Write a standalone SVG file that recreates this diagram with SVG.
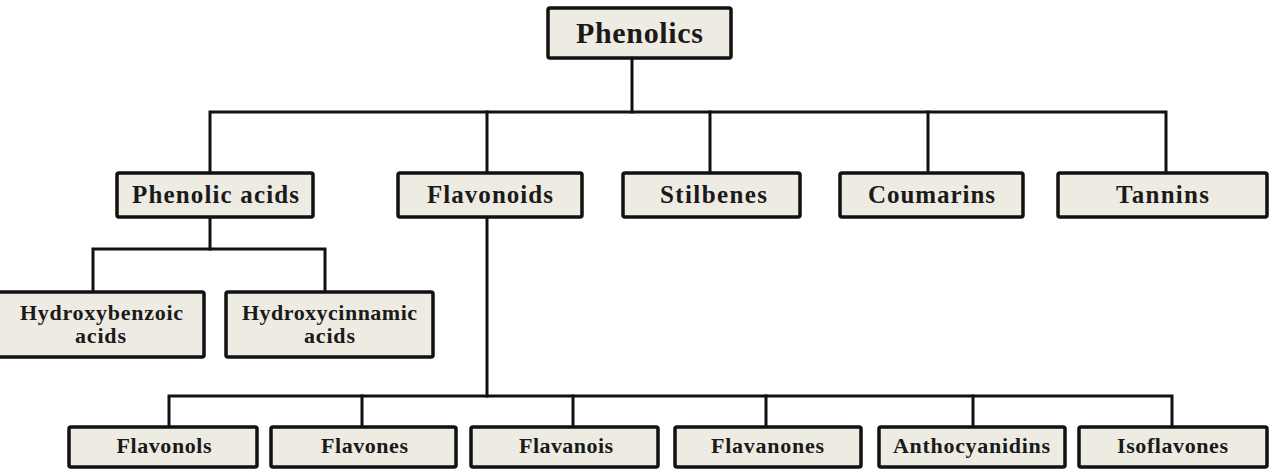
<svg xmlns="http://www.w3.org/2000/svg" width="1279" height="472" viewBox="0 0 1279 472">
  <style>
    .box { fill: #edebe2; stroke: #111; stroke-width: 3.5; }
    .wire { fill: none; stroke: #111; stroke-width: 3; stroke-linejoin: miter; stroke-linecap: square; }
    text { font-family: "Liberation Serif", "Times New Roman", serif; font-weight: bold; fill: #1a1a1a; text-anchor: middle; }
    .t1 { font-size: 30px; }
    .t2 { font-size: 25px; }
    .t3 { font-size: 22px; }
    .t4 { font-size: 22px; }
  </style>
  <rect width="1279" height="472" fill="#ffffff"/>

  <!-- tree connectors -->
  <g id="connectors" class="wire">
    <path d="M632 58 V112"/>
    <path d="M210 173 V112 H1166 V173"/>
    <path d="M487 112 V173 M710 112 V173 M928 112 V173"/>
    <path d="M210 217 V249"/>
    <path d="M93 292 V249 H325 V292"/>
    <path d="M487 217 V396"/>
    <path d="M169 427 V396 H1172 V427"/>
    <path d="M362 396 V427 M573 396 V427 M766 396 V427 M973 396 V427"/>
  </g>

  <!-- root -->
  <g id="phenolics">
    <rect class="box" x="548" y="8" width="183" height="50" rx="2"/>
    <text class="t1" x="639.5" y="43" textLength="127" lengthAdjust="spacing">Phenolics</text>
  </g>

  <!-- second level -->
  <g id="phenolic-acids">
    <rect class="box" x="117" y="173" width="196" height="44" rx="2"/>
    <text class="t2" x="215.5" y="203" textLength="167" lengthAdjust="spacing">Phenolic acids</text>
  </g>
  <g id="flavonoids">
    <rect class="box" x="398" y="173" width="184" height="44" rx="2"/>
    <text class="t2" x="490" y="203" textLength="126" lengthAdjust="spacing">Flavonoids</text>
  </g>
  <g id="stilbenes">
    <rect class="box" x="623" y="173" width="177" height="44" rx="2"/>
    <text class="t2" x="713.5" y="203" textLength="107" lengthAdjust="spacing">Stilbenes</text>
  </g>
  <g id="coumarins">
    <rect class="box" x="840" y="173" width="183" height="44" rx="2"/>
    <text class="t2" x="931.5" y="203" textLength="127" lengthAdjust="spacing">Coumarins</text>
  </g>
  <g id="tannins">
    <rect class="box" x="1058" y="173" width="209" height="44" rx="2"/>
    <text class="t2" x="1162.5" y="203" textLength="93" lengthAdjust="spacing">Tannins</text>
  </g>

  <!-- phenolic acid subclasses -->
  <g id="hydroxybenzoic-acids">
    <rect class="box" x="-2" y="292" width="206" height="65" rx="2"/>
    <text class="t3" x="101.5" y="320" textLength="163" lengthAdjust="spacing">Hydroxybenzoic</text>
    <text class="t3" x="100.5" y="343" textLength="51" lengthAdjust="spacing">acids</text>
  </g>
  <g id="hydroxycinnamic-acids">
    <rect class="box" x="226" y="292" width="207" height="65" rx="2"/>
    <text class="t3" x="329.5" y="320" textLength="175" lengthAdjust="spacing">Hydroxycinnamic</text>
    <text class="t3" x="329.5" y="343" textLength="51" lengthAdjust="spacing">acids</text>
  </g>

  <!-- flavonoid subclasses -->
  <g id="flavonols">
    <rect class="box" x="69" y="427" width="188" height="40" rx="2"/>
    <text class="t4" x="164" y="453" textLength="95" lengthAdjust="spacing">Flavonols</text>
  </g>
  <g id="flavones">
    <rect class="box" x="271" y="427" width="185" height="40" rx="2"/>
    <text class="t4" x="364.5" y="453" textLength="87" lengthAdjust="spacing">Flavones</text>
  </g>
  <g id="flavanois">
    <rect class="box" x="471" y="427" width="187" height="40" rx="2"/>
    <text class="t4" x="566" y="453" textLength="94" lengthAdjust="spacing">Flavanois</text>
  </g>
  <g id="flavanones">
    <rect class="box" x="675" y="427" width="186" height="40" rx="2"/>
    <text class="t4" x="767.5" y="453" textLength="113" lengthAdjust="spacing">Flavanones</text>
  </g>
  <g id="anthocyanidins">
    <rect class="box" x="879" y="427" width="186" height="40" rx="2"/>
    <text class="t4" x="971.5" y="453" textLength="157" lengthAdjust="spacing">Anthocyanidins</text>
  </g>
  <g id="isoflavones">
    <rect class="box" x="1079" y="427" width="188" height="40" rx="2"/>
    <text class="t4" x="1172.5" y="453" textLength="111" lengthAdjust="spacing">Isoflavones</text>
  </g>
</svg>
